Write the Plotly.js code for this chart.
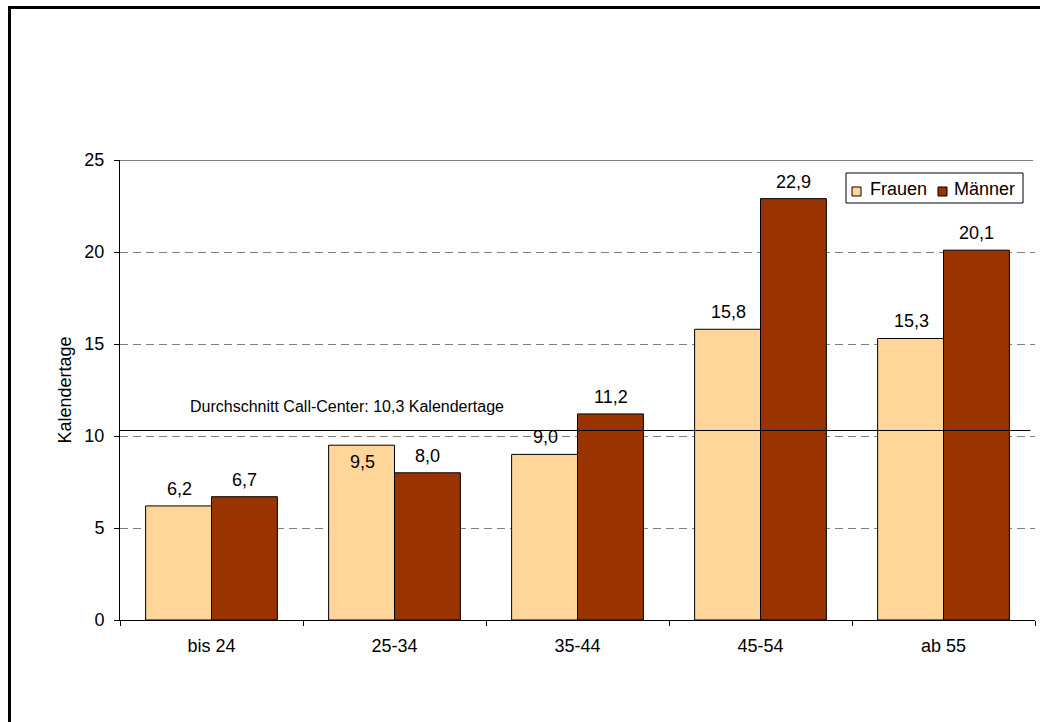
<!DOCTYPE html>
<html>
<head>
<meta charset="utf-8">
<script src="https://cdn.plot.ly/plotly-3.0.1.min.js"></script>
<style>
  html, body { margin: 0; padding: 0; background: #fff; overflow: hidden; width: 1040px; height: 722px; }
  #frame { position: absolute; left: 8px; top: 6px; width: 1032px; height: 716px;
           border-left: 3px solid #000; border-top: 3px solid #000; box-sizing: border-box; pointer-events: none; }
  #chart { position: absolute; left: 0; top: 0; width: 1040px; height: 722px; }
</style>
</head>
<body>
<div id="chart"></div>
<div id="frame"></div>
<script>
const categories = ['bis 24', '25-34', '35-44', '45-54', 'ab 55'];
const seriesNames = ['Frauen', 'Männer'];
const frauen = [6.2, 9.5, 9.0, 15.8, 15.3];
const maenner = [6.7, 8.0, 11.2, 22.9, 20.1];
const average = 10.3;
const averageLabel = 'Durchschnitt Call-Center: 10,3 Kalendertage';
const yTicks = [0, 5, 10, 15, 20, 25];

const FONT = 'Arial, "Liberation Sans", sans-serif';
const COLORS = ['#FFD699', '#993300'];
const fmt = v => v.toFixed(1).replace('.', ',');

// plot area geometry (px) used for legend placement
const M = { l: 120, r: 5, t: 160, b: 102 };
const W = 1040, H = 722;
const PW = W - M.l - M.r, PH = H - M.t - M.b;
const px = x => (x - M.l) / PW;
const py = y => (H - M.b - y) / PH;

const traces = [frauen, maenner].map((vals, s) => ({
  type: 'bar', name: seriesNames[s], x: categories, y: vals,
  marker: { color: COLORS[s], line: { color: '#000', width: 1 } }
}));

const annotations = [];
const labelInside = [[false, true, false, false, false], [false, false, false, false, false]];
[frauen, maenner].forEach((arr, s) => {
  arr.forEach((v, i) => {
    const inside = labelInside[s][i];
    annotations.push({
      x: categories[i], y: v, xref: 'x', yref: 'y',
      xshift: s === 0 ? -32 : 33,
      yshift: inside ? -5 : 5,
      yanchor: inside ? 'top' : 'bottom',
      text: fmt(v), showarrow: false,
      font: { family: FONT, size: 18, color: '#000' }
    });
  });
});
annotations.push({
  x: 0.074, xref: 'paper', y: average, yref: 'y', yshift: 24, xanchor: 'left',
  text: averageLabel, showarrow: false,
  font: { family: FONT, size: 16, color: '#000' }
});

const yMax = yTicks[yTicks.length - 1];
const shapes = [
  { type: 'line', xref: 'paper', x0: 0, x1: 0.995, yref: 'y', y0: average, y1: average,
    line: { color: '#000', width: 1 } },
  { type: 'line', xref: 'paper', x0: 0, x1: 0.998, yref: 'y', y0: yMax, y1: yMax,
    line: { color: '#000', width: 1 } },
  // legend box
  { type: 'rect', xref: 'paper', yref: 'paper', x0: px(846), x1: px(1023), y0: py(203), y1: py(173),
    fillcolor: '#fff', line: { color: '#000', width: 1 } }
];
const legendSymbolX = [852, 938];
const legendTextX = [868, 952];
seriesNames.forEach((name, s) => {
  shapes.push({ type: 'rect', xref: 'paper', yref: 'paper',
    x0: px(legendSymbolX[s]), x1: px(legendSymbolX[s] + 9), y0: py(196), y1: py(187),
    fillcolor: COLORS[s], line: { color: '#000', width: 1 } });
  annotations.push({ xref: 'paper', yref: 'paper', x: px(legendTextX[s]), y: py(189),
    xanchor: 'left', yanchor: 'middle', text: name, showarrow: false,
    font: { family: FONT, size: 18, color: '#000' } });
});

const layout = {
  width: W, height: H,
  margin: M,
  paper_bgcolor: '#fff', plot_bgcolor: '#fff',
  font: { family: FONT, size: 18, color: '#000' },
  barmode: 'group', bargap: 0.28, bargroupgap: 0,
  showlegend: false,
  xaxis: { type: 'category', showline: true, linecolor: '#000', linewidth: 1,
           ticks: 'outside', tickson: 'boundaries', ticklen: 5, tickcolor: '#000',
           ticklabelstandoff: 9,
           showgrid: false, zeroline: false, fixedrange: true },
  yaxis: { range: [0, 25], tickvals: yTicks, ticks: 'outside', ticklen: 5, tickcolor: '#000',
           ticklabelstandoff: 6,
           showline: true, linecolor: '#000', linewidth: 1,
           showgrid: true, gridcolor: '#808080', griddash: '8px,5px', gridwidth: 1,
           zeroline: false, fixedrange: true,
           title: { text: 'Kalendertage', font: { family: FONT, size: 18, color: '#000' }, standoff: 8 } },
  shapes: shapes,
  annotations: annotations
};

Plotly.newPlot('chart', traces, layout, { displayModeBar: false, staticPlot: true });
</script>
</body>
</html>
